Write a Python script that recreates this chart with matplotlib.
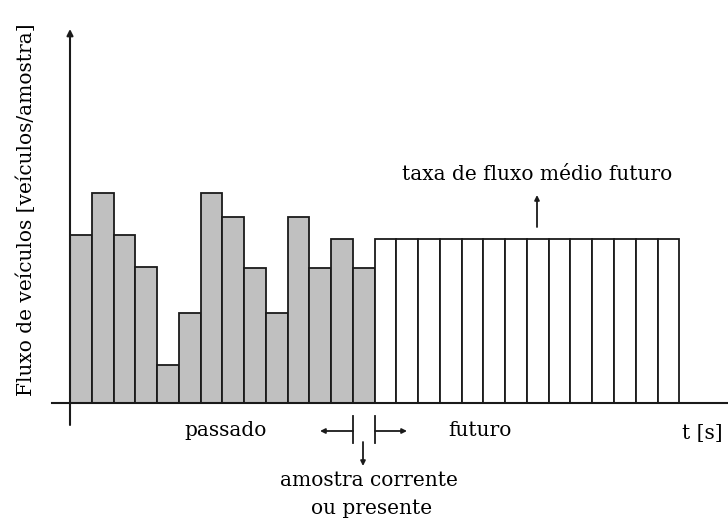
import matplotlib.pyplot as plt

# valores (unidade arbitraria de fluxo)
past_flow = [5.0, 6.25, 5.0, 4.05, 1.12, 2.68, 6.25, 5.54, 4.0, 2.68, 5.54, 4.0, 4.88, 4.0]
future_flow = [4.88, 4.88, 4.88, 4.88, 4.88, 4.88, 4.88,
               4.88, 4.88, 4.88, 4.88, 4.88, 4.88, 4.88]

W, H = 728, 522
X0, Y0 = 70, 402.7      # origem em pixels (a partir do topo)
SX, SY = 21.76, 33.6    # pixels por unidade


def px(x, y):
    """pixel da imagem -> coordenadas de dados"""
    return (x - X0) / SX, (Y0 - y) / SY


plt.rcParams['font.family'] = 'DejaVu Serif'
fig = plt.figure(figsize=(W / 100, H / 100), dpi=100)
ax = fig.add_axes([0, 0, 1, 1])
ax.axis('off')
ax.set_xlim(px(0, 0)[0], px(W, 0)[0])
ax.set_ylim(px(0, H)[1], px(0, 0)[1])

edge = '#1a1a1a'
n_past = len(past_flow)
ax.bar(range(n_past), past_flow, width=1, align='edge',
       color='#c0c0c0', edgecolor=edge, lw=1.3)
ax.bar(range(n_past, n_past + len(future_flow)), future_flow, width=1,
       align='edge', color='white', edgecolor=edge, lw=1.3)

# eixos
xa, _ = px(52, 0)
xb, _ = px(W, 0)
ax.plot([xa, xb], [0, 0], color=edge, lw=1.5, zorder=3)
ax.annotate('', xy=px(70, 29), xytext=px(70, 425),
            arrowprops=dict(arrowstyle='-|>', color=edge, lw=1.5,
                            mutation_scale=9, shrinkA=0, shrinkB=0))

fs = 14.5
ax.text(*px(26, 210), 'Fluxo de veículos [veículos/amostra]', rotation=90,
        ha='center', va='center', fontsize=fs)
ax.text(*px(226, 430), 'passado', ha='center', va='center', fontsize=fs)
ax.text(*px(480, 430), 'futuro', ha='center', va='center', fontsize=fs)
ax.text(*px(702, 433), 't [s]', ha='center', va='center', fontsize=fs)
ax.text(*px(369, 481), 'amostra corrente', ha='center', va='center', fontsize=fs)
ax.text(*px(372, 509), 'ou presente', ha='center', va='center', fontsize=fs)
ax.text(*px(537, 174), 'taxa de fluxo médio futuro', ha='center', va='center',
        fontsize=fs)

arrow = dict(arrowstyle='-|>', color=edge, lw=1.3, mutation_scale=7,
             shrinkA=0, shrinkB=0)
# amostra corrente
for xb_px in (353, 375):
    ax.plot(*zip(px(xb_px, 416), px(xb_px, 443)), color=edge, lw=1.3)
ax.annotate('', xy=px(320, 431), xytext=px(353, 431), arrowprops=arrow)
ax.annotate('', xy=px(407, 431), xytext=px(375, 431), arrowprops=arrow)
ax.annotate('', xy=px(363, 466), xytext=px(363, 442), arrowprops=arrow)
# taxa media futura
ax.annotate('', xy=px(537, 195), xytext=px(537, 227), arrowprops=arrow)

fig.savefig('out.png', dpi=100, facecolor='white')
